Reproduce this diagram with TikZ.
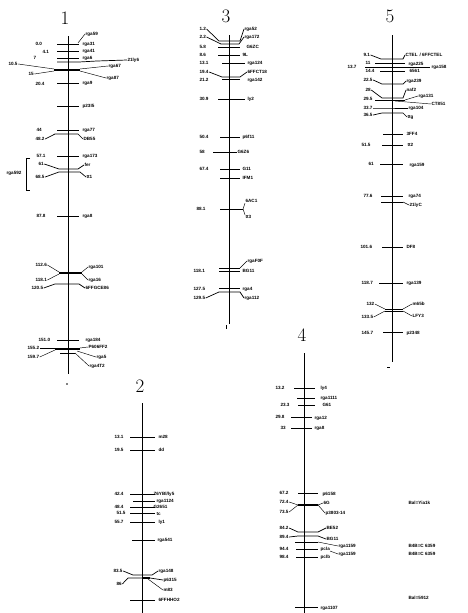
\documentclass[tikz,border=0pt]{standalone}
\usepackage{fontspec}
\setsansfont{Liberation Sans}
\usetikzlibrary{positioning}
\begin{document}
\begin{tikzpicture}[x=1pt, y=-1pt,
    chrom/.style={line width=0.9pt},
    tick/.style={line width=0.7pt},
    bar/.style={line width=1.9pt},
    lead/.style={line width=0.45pt},
    mk/.style={anchor=west, inner sep=0.4pt, font=\sffamily\bfseries\fontsize{4.6}{5}\selectfont},
    lg/.style={inner sep=0pt, font=\fontsize{19}{19}\selectfont},
    endmark/.style={fill=black}
]
    \useasboundingbox (0,0) rectangle (467,613);

    % Linkage group 1
    \node[lg] (lg1) at (65,18) {1};
    \draw[chrom] (68,36) -- (68,374);
    \fill[endmark] (67,384) circle (0.9);
    \draw[tick] (57,44) -- (79,44);
    \node[mk] (g1a) at (85,34) {rga59};
    \draw[lead] (78,43) -- (g1a.west);
    \node[mk] (g1al) at (35,44) {0.0};
    \node[mk] (g1ar) at (82,44) {rga31};
    \draw[tick] (57,51) -- (79,51);
    \node[mk] (g1bl) at (42,52) {4.1};
    \node[mk] (g1br) at (82,51) {rga41};
    \draw[tick] (57,58) -- (79,58);
    \node[mk] (g1cl) at (33,58) {7};
    \node[mk] (g1cr) at (82,58) {rga6};
    \coordinate (g1d) at (57,62);
    \node[mk] (g1dr) at (127,60) {21ly6};
    \draw[tick] (g1d) -- (79,62) -- (97,61) -- (g1dr.west);
    \draw[bar] (54,70) -- (80,70);
    \node[mk] (g1el) at (8,64) {10.5};
    \node[mk] (g1fl) at (28,74) {15};
    \node[mk] (g1er) at (108,66) {rga67};
    \node[mk] (g1fr) at (106,78) {rga87};
    \draw[lead] (g1el.east) -- (54,69);
    \draw[lead] (g1fl.east) -- (54,71);
    \draw[lead] (80,69) -- (g1er.west);
    \draw[lead] (80,71) -- (g1fr.west);
    \draw[tick] (57,83) -- (79,83);
    \node[mk] (g1gl) at (35,84) {20.4};
    \node[mk] (g1gr) at (82,83) {rga9};
    \draw[tick] (57,106) -- (79,106);
    \node[mk] (g1hr) at (82,106) {p23I5};
    \draw[tick] (57,130) -- (79,130);
    \node[mk] (g1il) at (36,130) {44};
    \node[mk] (g1ir) at (82,130) {rga77};
    \node[mk] (g1jl) at (35,139) {48.2};
    \node[mk] (g1jr) at (83,139) {DB55};
    \draw[tick] (g1jl.east) -- (55,134) -- (78,134) -- (g1jr.west);
    \draw[tick] (57,156) -- (79,156);
    \node[mk] (g1kl) at (36,156) {57.1};
    \node[mk] (g1kr) at (82,156) {rga173};
    \node[mk] (g1ll) at (38,164) {61};
    \node[mk] (g1lr) at (84,165) {fer};
    \draw[tick] (g1ll.east) -- (59,169) -- (78,169) -- (g1lr.west);
    \node[mk] (g1ml) at (35,177) {68.5};
    \node[mk] (g1mr) at (86,177) {tt1};
    \draw[tick] (g1ml.east) -- (59,172) -- (80,172) -- (g1mr.west);
    \node[mk] (g1br2) at (6,173) {rga592};
    \draw[tick] (30,158) -- (26,158) -- (26,190) -- (30,190);
    \draw[tick] (57,216) -- (79,216);
    \node[mk] (g1nl) at (36,216) {87.8};
    \node[mk] (g1nr) at (82,216) {rga8};
    \draw[bar] (59,273) -- (82,273);
    \node[mk] (g1ol) at (35,265) {112.6};
    \node[mk] (g1pl) at (35,280) {118.1};
    \node[mk] (g1or) at (88,267) {rga101};
    \node[mk] (g1pr) at (88,280) {rga16};
    \draw[lead] (g1ol.east) -- (59,272);
    \draw[lead] (g1pl.east) -- (59,274);
    \draw[lead] (82,272) -- (g1or.west);
    \draw[lead] (82,274) -- (g1pr.west);
    \node[mk] (g1ql) at (31,288) {120.5};
    \node[mk] (g1qr) at (85,288) {6FFGCE86};
    \draw[tick] (g1ql.east) -- (55,284) -- (79,284) -- (g1qr.west);
    \draw[tick] (57,340) -- (79,340);
    \node[mk] (g1rl) at (38,340) {151.0};
    \node[mk] (g1rr) at (85,340) {rga184};
    \draw[bar] (55,349) -- (80,349);
    \draw[tick] (60,353) -- (75,353);
    \node[mk] (g1sl) at (27,348) {155.2};
    \node[mk] (g1tl) at (27,357) {159.7};
    \node[mk] (g1sr) at (88,347) {P606FF2};
    \node[mk] (g1tr) at (96,357) {rga5};
    \node[mk] (g1ur) at (89,366) {rga4T2};
    \draw[lead] (g1sl.east) -- (55,348);
    \draw[lead] (g1tl.east) -- (55,350);
    \draw[lead] (80,348) -- (g1sr.west);
    \draw[lead] (77,351) -- (g1tr.west);
    \draw[lead] (75,353) -- (g1ur.west);

    % Linkage group 3
    \node[lg] (lg3) at (226,16) {3};
    \draw[chrom] (229,35) -- (229,324);
    \fill[endmark] (225.6,325) rectangle (226.4,329);
    \node[mk] (g3al) at (199,29) {1.2};
    \node[mk] (g3ar) at (244,29) {rga52};
    \draw[tick] (g3al.east) -- (219,41) -- (240,41) -- (g3ar.west);
    \node[mk] (g3bl) at (199,37) {2.2};
    \node[mk] (g3br) at (244,37) {rga172};
    \draw[tick] (g3bl.east) -- (221,44) -- (239,44) -- (g3br.west);
    \draw[tick] (218,47) -- (240,47);
    \node[mk] (g3cl) at (199,47) {5.8};
    \node[mk] (g3cr) at (246,47) {G6ZC};
    \draw[tick] (218,55) -- (240,55);
    \node[mk] (g3dl) at (199,55) {8.6};
    \node[mk] (g3dr) at (242,55) {9L};
    \draw[tick] (222,63) -- (245,63);
    \node[mk] (g3el) at (199,63) {13.1};
    \node[mk] (g3er) at (247,63) {rga124};
    \node[mk] (g3fl) at (199,72) {19.4};
    \node[mk] (g3fr) at (247,72) {6FFCT18};
    \draw[tick] (g3fl.east) -- (222,77) -- (240,77) -- (g3fr.west);
    \draw[tick] (222,79) -- (240,79);
    \node[mk] (g3gl) at (199,80) {21.2};
    \node[mk] (g3gr) at (247,80) {rga142};
    \draw[tick] (218,99) -- (245,99);
    \node[mk] (g3hl) at (199,99) {30.9};
    \node[mk] (g3hr) at (247,99) {ly2};
    \draw[tick] (220,137) -- (240,137);
    \node[mk] (g3il) at (199,137) {50.4};
    \node[mk] (g3ir) at (242,137) {p6f11};
    \draw[tick] (213,152) -- (237,152);
    \node[mk] (g3jl) at (199,152) {58};
    \node[mk] (g3jr) at (237,152) {G6Z6};
    \draw[tick] (220,169) -- (240,169);
    \node[mk] (g3kl) at (199,169) {67.4};
    \node[mk] (g3kr) at (242,169) {G11};
    \draw[tick] (220,178) -- (240,178);
    \node[mk] (g3lr) at (242,178) {IFM1};
    \draw[tick] (220,209) -- (243,209);
    \node[mk] (g3ml) at (196,209) {88.1};
    \node[mk] (g3mr) at (245,201) {6AC1};
    \node[mk] (g3nr) at (245,217) {tt3};
    \draw[lead] (243,209) -- (g3mr.south west);
    \draw[lead] (243,209) -- (g3nr.north west);
    \draw[tick] (219,268) -- (240,268);
    \draw[tick] (219,271) -- (240,271);
    \node[mk] (g3or) at (247,261) {rgaF0F};
    \draw[lead] (240,268) -- (g3or.west);
    \node[mk] (g3pl) at (193,271) {118.1};
    \node[mk] (g3pr) at (242,271) {BG11};
    \draw[tick] (219,288) -- (240,288);
    \node[mk] (g3ql) at (193,289) {127.5};
    \node[mk] (g3qr) at (242,289) {rga4};
    \node[mk] (g3rl) at (193,298) {129.5};
    \node[mk] (g3rr) at (244,298) {rga112};
    \draw[tick] (g3rl.east) -- (219,292) -- (240,292) -- (g3rr.west);

    % Linkage group 5
    \node[lg] (lg5) at (390,16) {5};
    \draw[chrom] (392,35) -- (392,362);
    \fill[endmark] (387,366.6) rectangle (390,367.4);
    \node[mk] (g5al) at (363,55) {9.1};
    \node[mk] (g5ar) at (405,55) {CTEL};
    \node[mk] (g5as) at (419,55) {/ 6FFCTEL};
    \draw[tick] (g5al.east) -- (381,59) -- (403,59) -- (g5ar.west);
    \draw[tick] (375,63) -- (405,63);
    \node[mk] (g5bl) at (365,63) {11};
    \node[mk] (g5br) at (408,64) {rga225};
    \draw[tick] (365,67) -- (430,67);
    \node[mk] (g5cl) at (347,67) {13.7};
    \node[mk] (g5cr) at (431,67) {rga158};
    \draw[tick] (380,71) -- (405,71);
    \node[mk] (g5dl) at (365,71) {14.4};
    \node[mk] (g5dr) at (409,71) {6561};
    \node[mk] (g5el) at (363,80) {22.5};
    \node[mk] (g5er) at (406,81) {rga239};
    \draw[tick] (g5el.east) -- (382,84) -- (403,84) -- (g5er.west);
    \node[mk] (g5fl) at (365,90) {28};
    \node[mk] (g5fr) at (406,90) {naf2};
    \draw[tick] (g5fl.east) -- (382,98) -- (403,98) -- (g5fr.west);
    \draw[tick] (375,100) -- (405,100);
    \node[mk] (g5gl) at (363,99) {29.5};
    \node[mk] (g5gr) at (418,96) {rga131};
    \node[mk] (g5hr) at (431,104) {CT851};
    \draw[lead] (405,100) -- (g5gr.west);
    \draw[lead] (395,101) -- (g5hr.west);
    \node[mk] (g5il) at (363,108) {33.7};
    \node[mk] (g5ir) at (408,108) {rga104};
    \draw[tick] (g5il.east) -- (382,108) -- (g5ir.west);
    \node[mk] (g5jl) at (363,115) {36.5};
    \node[mk] (g5jr) at (407,117) {ttg};
    \draw[tick] (g5jl.east) -- (382,113) -- (403,113) -- (g5jr.west);
    \draw[tick] (383,134) -- (403,134);
    \node[mk] (g5kr) at (406,134) {3FF4};
    \draw[tick] (382,145) -- (403,145);
    \node[mk] (g5ll) at (361,145) {51.5};
    \node[mk] (g5lr) at (407,145) {tt2};
    \draw[tick] (380,164) -- (403,164);
    \node[mk] (g5ml) at (368,164) {61};
    \node[mk] (g5mr) at (409,165) {rga159};
    \draw[tick] (381,196) -- (403,196);
    \node[mk] (g5nl) at (363,196) {77.6};
    \node[mk] (g5nr) at (408,196) {rga74};
    \draw[tick] (381,202) -- (403,202);
    \node[mk] (g5or) at (409,205) {21lyC};
    \draw[lead] (403,202) -- (g5or.west);
    \draw[tick] (382,247) -- (403,247);
    \node[mk] (g5pl) at (360,247) {101.6};
    \node[mk] (g5pr) at (406,247) {DF8};
    \draw[tick] (379,283) -- (403,283);
    \node[mk] (g5ql) at (361,283) {118.7};
    \node[mk] (g5qr) at (406,283) {rga139};
    \draw[tick] (385,309) -- (403,309);
    \draw[tick] (385,311) -- (403,311);
    \node[mk] (g5rl) at (366,304) {132};
    \node[mk] (g5sl) at (361,317) {133.5};
    \node[mk] (g5rr) at (412,304) {m65b};
    \node[mk] (g5sr) at (412,316) {LFY3};
    \draw[lead] (g5rl.east) -- (385,309);
    \draw[lead] (g5sl.east) -- (385,311);
    \draw[lead] (403,309) -- (g5rr.west);
    \draw[lead] (403,311) -- (g5sr.west);
    \draw[tick] (383,332) -- (403,332);
    \node[mk] (g5tl) at (361,333) {145.7};
    \node[mk] (g5tr) at (406,333) {p2348};

    % Linkage group 2
    \node[lg] (lg2) at (140,386) {2};
    \draw[chrom] (142,403) -- (142,613);
    \draw[tick] (130,437) -- (155,437);
    \node[mk] (g2al) at (114,437) {13.1};
    \node[mk] (g2ar) at (158,437) {m28};
    \draw[tick] (130,450) -- (155,450);
    \node[mk] (g2bl) at (114,450) {19.5};
    \node[mk] (g2br) at (158,450) {dd};
    \draw[tick] (130,494) -- (155,494);
    \node[mk] (g2cl) at (114,494) {42.4};
    \node[mk] (g2cr) at (153,494) {Z6YBl/ly5};
    \draw[tick] (133,501) -- (155,501);
    \node[mk] (g2dr) at (156,501) {rga1124};
    \draw[tick] (130,507) -- (155,507);
    \node[mk] (g2el) at (114,507) {48.4};
    \node[mk] (g2er) at (153,507) {G2651};
    \draw[tick] (130,513) -- (155,513);
    \node[mk] (g2fl) at (116,513) {51.5};
    \node[mk] (g2fr) at (156,514) {tc};
    \draw[tick] (130,522) -- (155,522);
    \node[mk] (g2gl) at (114,522) {55.7};
    \node[mk] (g2gr) at (158,522) {ly1};
    \draw[tick] (132,540) -- (155,540);
    \node[mk] (g2hr) at (157,540) {rga541};
    \node[mk] (g2il) at (113,571) {83.5};
    \node[mk] (g2ir) at (158,571) {rga148};
    \draw[tick] (g2il.east) -- (133,575) -- (152,575) -- (g2ir.west);
    \draw[bar] (142,578) -- (150,578);
    \node[mk] (g2jl) at (116,584) {86};
    \node[mk] (g2jr) at (163,580) {p6315};
    \node[mk] (g2kr) at (163,590) {m83};
    \draw[tick] (g2jl.east) -- (128,578) -- (142,578);
    \draw[tick] (150,578) -- (g2jr.west);
    \draw[lead] (148,579) -- (g2kr.west);
    \draw[tick] (130,600) -- (155,600);
    \node[mk] (g2lr) at (158,600) {6FFHHO2};

    % Linkage group 4
    \node[lg] (lg4) at (302,335) {4};
    \draw[chrom] (304,353) -- (304,613);
    \draw[tick] (294,388) -- (315,388);
    \node[mk] (g4al) at (275,388) {13.2};
    \node[mk] (g4ar) at (320,388) {ly4};
    \draw[tick] (297,398) -- (315,398);
    \node[mk] (g4br) at (320,398) {rga1111};
    \draw[tick] (298,405) -- (315,405);
    \node[mk] (g4cl) at (280,405) {23.3};
    \node[mk] (g4cr) at (322,405) {G61};
    \draw[tick] (291,417) -- (312,417);
    \node[mk] (g4dl) at (275,417) {29.8};
    \node[mk] (g4dr) at (314,418) {rga12};
    \draw[tick] (291,428) -- (312,428);
    \node[mk] (g4el) at (280,428) {33};
    \node[mk] (g4er) at (314,428) {rga8};
    \draw[tick] (298,493) -- (318,493);
    \node[mk] (g4fl) at (279,493) {67.2};
    \node[mk] (g4fr) at (322,494) {p6158};
    \draw[bar] (298,505) -- (318,505);
    \node[mk] (g4gl) at (279,502) {72.4};
    \node[mk] (g4hl) at (279,512) {73.5};
    \node[mk] (g4gr) at (323,503) {6G};
    \node[mk] (g4hr) at (325,513) {p3803-14};
    \draw[lead] (g4gl.east) -- (298,505);
    \draw[lead] (g4hl.east) -- (298,505);
    \draw[lead] (318,505) -- (g4gr.west);
    \draw[lead] (318,505) -- (g4hr.west);
    \node[mk] (g4il) at (279,528) {84.2};
    \node[mk] (g4ir) at (326,528) {BE52};
    \draw[tick] (g4il.east) -- (298,532) -- (318,532) -- (g4ir.west);
    \node[mk] (g4jl) at (279,537) {89.4};
    \node[mk] (g4jr) at (326,539) {BG11};
    \draw[tick] (g4jl.east) -- (298,536) -- (318,536) -- (g4jr.west);
    \draw[tick] (295,542) -- (318,542);
    \node[mk] (g4kr) at (338,546) {rga1159};
    \draw[lead] (318,542) -- (g4kr.west);
    \draw[tick] (296,549) -- (318,549);
    \node[mk] (g4ll) at (279,549) {94.4};
    \node[mk] (g4lr) at (320,549) {pcla};
    \node[mk] (g4mr) at (338,554) {rga1159};
    \draw[lead] (330,551) -- (g4mr.west);
    \draw[tick] (296,557) -- (318,557);
    \node[mk] (g4nl) at (279,557) {98.4};
    \node[mk] (g4nr) at (320,557) {pclb};
    \draw[tick] (295,607) -- (318,607);
    \node[mk] (g4or) at (320,608) {rga1107};

    % Notes beside group 4
    \node[mk] (n1) at (408,503) {Bal=Yia1k};
    \node[mk] (n2) at (408,546) {B4B=C 6359};
    \node[mk] (n3) at (408,554) {B4B=C 6359};
    \node[mk] (n4) at (408,598) {Bal=5912};

\end{tikzpicture}
\end{document}
